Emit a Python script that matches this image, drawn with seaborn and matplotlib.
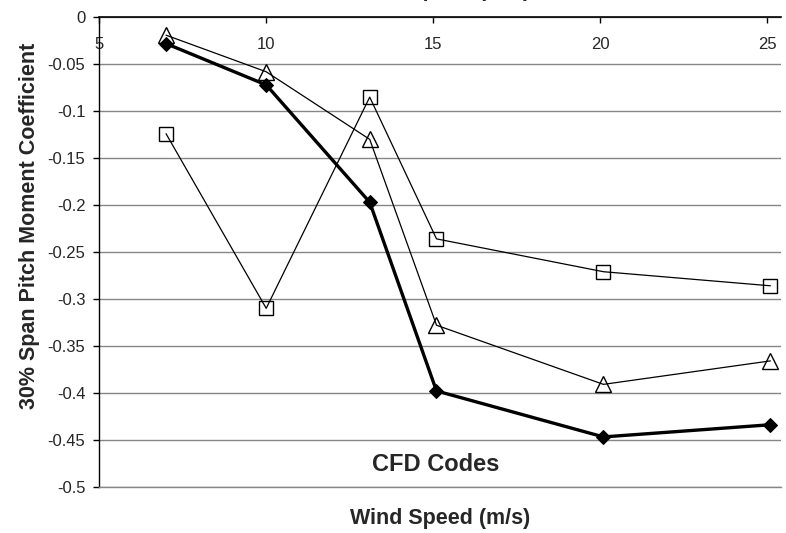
import matplotlib
matplotlib.use("Agg")
import matplotlib.pyplot as plt
import seaborn as sns
import pandas as pd
from matplotlib.ticker import FormatStrFormatter, MultipleLocator

# wind speed (m/s) at which each code was run
wind_speed = [7.0, 10.0, 13.1, 15.1, 20.1, 25.1]

# 30% span pitch moment coefficient, three CFD codes
code_diamond = [-0.028, -0.072, -0.197, -0.398, -0.447, -0.434]
code_triangle = [-0.019, -0.058, -0.130, -0.328, -0.391, -0.366]
code_square = [-0.124, -0.310, -0.085, -0.236, -0.271, -0.286]

xticks = [5, 10, 15, 20, 25]

sns.set_style("white")
plt.rcParams['font.family'] = ['Liberation Sans', 'DejaVu Sans']
plt.rcParams['axes.unicode_minus'] = False

fig = plt.figure(figsize=(7.86, 5.33), dpi=100)
ax = fig.add_axes([0.1263, 0.0869, 0.867, 0.8806])

df = pd.DataFrame({'speed': wind_speed, 'diamond': code_diamond,
                   'triangle': code_triangle, 'square': code_square})

# horizontal gridlines first
ax.set_axisbelow(True)
ax.yaxis.grid(True, color='#868686', lw=1.0)
ax.xaxis.grid(False)

sns.lineplot(data=df, x='speed', y='square', ax=ax, color='black', lw=0.9,
             marker='s', markersize=10, markerfacecolor='none',
             markeredgecolor='black', markeredgewidth=1.0)
sns.lineplot(data=df, x='speed', y='triangle', ax=ax, color='black', lw=0.9,
             marker='^', markersize=11, markerfacecolor='none',
             markeredgecolor='black', markeredgewidth=1.0)
sns.lineplot(data=df, x='speed', y='diamond', ax=ax, color='black', lw=2.4,
             marker='D', markersize=7, markerfacecolor='black',
             markeredgecolor='black')

ax.set_xlim(5, 25.41)
ax.set_ylim(-0.5, 0)
ax.set_xticks(xticks)
ax.yaxis.set_major_locator(MultipleLocator(0.05))
ax.yaxis.set_major_formatter(FormatStrFormatter('%g'))

# x axis sits on the y=0 line with labels hanging below it
ax.xaxis.set_ticks_position('top')
ax.tick_params(axis='x', direction='in', length=4, width=1, color='black',
               top=True, bottom=False, labeltop=True, labelbottom=False,
               labelsize=12, pad=-25)
ax.tick_params(axis='y', direction='out', length=4, width=1, color='black',
               left=True, labelsize=12, pad=6)

ax.spines['right'].set_visible(False)
ax.spines['bottom'].set_color('#868686')
ax.spines['bottom'].set_linewidth(1.0)
ax.spines['top'].set_color('black')
ax.spines['top'].set_linewidth(1.2)
ax.spines['left'].set_color('black')
ax.spines['left'].set_linewidth(1.0)

ax.set_xlabel('Wind Speed (m/s)', fontsize=15.5, fontweight='bold')
ax.xaxis.set_label_coords(0.5, -0.045)
ax.set_ylabel('30% Span Pitch Moment Coefficient', fontsize=15.5, fontweight='bold')
ax.yaxis.set_label_coords(-0.087, 0.555)

# title is clipped by the top edge of the picture, as in the original
fig.text(0.5 * (0.1263 + 0.9933), 1.0 + 4 / 533, 'Wind Speed (m/s)',
         ha='center', va='baseline', fontsize=15.5, fontweight='bold')

ax.text(0.494, 0.047, 'CFD Codes', transform=ax.transAxes, ha='center',
        va='center', fontsize=17, fontweight='bold')

fig.savefig('out.png', dpi=100)
